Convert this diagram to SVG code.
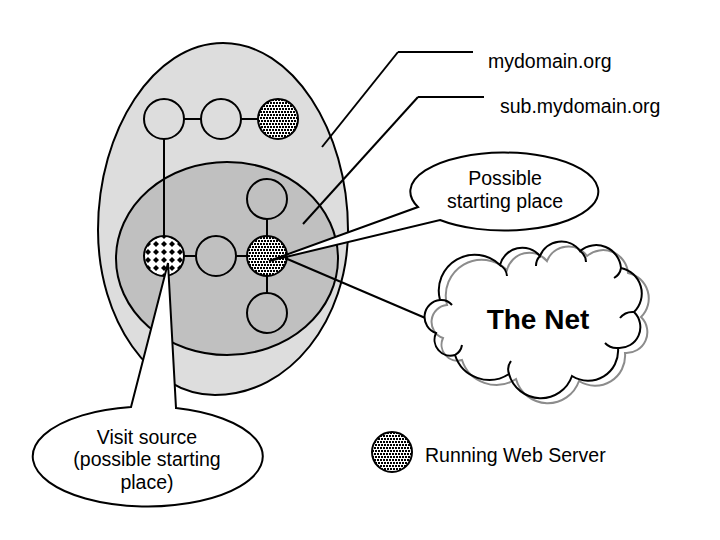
<svg xmlns="http://www.w3.org/2000/svg" width="720" height="540" viewBox="0 0 720 540">
<defs>
<pattern id="dots" width="3" height="6" patternUnits="userSpaceOnUse">
<rect width="3" height="6" fill="#fff"/>
<rect x="0" y="0" width="2" height="2" fill="#000"/>
<rect x="2" y="3" width="1" height="2" fill="#000"/>
<rect x="0" y="3" width="1" height="2" fill="#000"/>
</pattern>
<pattern id="diam" width="8" height="8" patternUnits="userSpaceOnUse" x="0" y="0">
<rect width="8" height="8" fill="#fff"/>
<polygon points="4,1 7,4 4,7 1,4" fill="#000"/>
</pattern>
<path id="cloud" d="M436,333 A17,17 0 0 1 440,300 A36,36 0 0 1 500,265 A23,23 0 0 1 540,256 A23,23 0 0 1 580,251 A25,25 0 0 1 621,268 A26,26 0 0 1 634,312 A21,21 0 0 1 618,348 A30,30 0 0 1 572,376 A33,33 0 0 1 509,374 A36,36 0 0 1 455,355 A16,16 0 0 1 436,333 Z"/>
</defs>
<style>
.ln{stroke:#000;stroke-width:2;fill:none}
.nd{stroke:#000;stroke-width:2;fill:none}
.dt{stroke:#000;stroke-width:2;fill:url(#dots)}
.dm{stroke:#000;stroke-width:2;fill:url(#diam)}
.t{font-family:"Liberation Sans",Arial,sans-serif;font-size:19.5px;fill:#000}
.c{text-anchor:middle}
</style>
<rect width="720" height="540" fill="#fff"/>
<g id="mydomain">
<path d="M223,43 C292,43 348,130 348,230 C348,320 290,395 215,395 C150,395 98,320 98,230 C98,130 154,43 223,43 Z" fill="#dddddd" stroke="#000" stroke-width="2"/>
</g>
<g id="subdomain">
<ellipse cx="227" cy="258.5" rx="111" ry="96.5" fill="#c0c0c0" stroke="#000" stroke-width="2"/>
</g>
<g id="connectors">
<line class="ln" x1="184" y1="119" x2="201" y2="119"/>
<line class="ln" x1="241" y1="119" x2="258" y2="119"/>
<line class="ln" x1="164" y1="139" x2="164" y2="236"/>
<line class="ln" x1="184" y1="256" x2="196" y2="256"/>
<line class="ln" x1="236" y1="256" x2="247" y2="256"/>
<line class="ln" x1="267" y1="219" x2="267" y2="236"/>
<line class="ln" x1="267" y1="276" x2="267" y2="293"/>
<line class="ln" x1="398" y1="52" x2="473" y2="52"/>
<line class="ln" x1="398" y1="52" x2="322" y2="147"/>
<line class="ln" x1="418" y1="97" x2="484" y2="97"/>
<line class="ln" x1="418" y1="97" x2="303" y2="224"/>
<line class="ln" x1="285" y1="258" x2="430" y2="320"/>
</g>
<g id="node-a1"><circle class="nd" cx="164" cy="119" r="20"/></g>
<g id="node-a2"><circle class="nd" cx="221" cy="119" r="20"/></g>
<g id="node-a3"><circle class="dt" cx="278" cy="119" r="20"/></g>
<g id="node-b1"><circle class="nd" cx="267" cy="199" r="20"/></g>
<g id="node-b2"><circle class="dm" cx="164" cy="256" r="20"/></g>
<g id="node-b3"><circle class="nd" cx="216" cy="256" r="20"/></g>
<g id="node-b4"><circle class="dt" cx="267" cy="256" r="20"/></g>
<g id="node-b5"><circle class="nd" cx="267" cy="313" r="20"/></g>
<g id="callout-possible">
<path d="M269,261 L418,207 A94,39 0 1 1 440,220 Z" fill="#fff" stroke="#000" stroke-width="2"/>
<text class="t c" x="505" y="185">Possible</text>
<text class="t c" x="505" y="208">starting place</text>
</g>
<g id="callout-visit">
<path d="M168,263 L176,408 A115,50 0 1 1 131,407 Z" fill="#fff" stroke="#000" stroke-width="2"/>
<text class="t c" x="147" y="444">Visit source</text>
<text class="t c" x="147" y="466">(possible starting</text>
<text class="t c" x="147" y="489">place)</text>
</g>
<g id="the-net">
<use href="#cloud" fill="#fff" stroke="none"/>
<use href="#cloud" transform="translate(7,5)" fill="none" stroke="#8c8c8c" stroke-width="2"/>
<use href="#cloud" fill="none" stroke="#000" stroke-width="2"/>
<path d="M500,265 A14,14 0 0 1 507,276 M540,256 A14,14 0 0 0 536,266 M580,251 A14,14 0 0 1 586,262 M621,268 A14,14 0 0 1 614,278 M634,312 A16,16 0 0 0 620,318 M618,348 A16,16 0 0 1 605,343 M509,374 A14,14 0 0 1 511,361 M455,355 A14,14 0 0 0 462,345 M440,300 A14,14 0 0 1 452,305" fill="none" stroke="#000" stroke-width="2"/>
<text x="538" y="329" text-anchor="middle" font-family="Liberation Sans,Arial,sans-serif" font-size="28" font-weight="bold">The Net</text>
</g>
<g id="labels">
<text class="t" x="488" y="68">mydomain.org</text>
<text class="t" x="500" y="113">sub.mydomain.org</text>
</g>
<g id="legend">
<circle class="dt" cx="392" cy="452" r="20"/>
<text class="t" x="425" y="462">Running Web Server</text>
</g>
</svg>
